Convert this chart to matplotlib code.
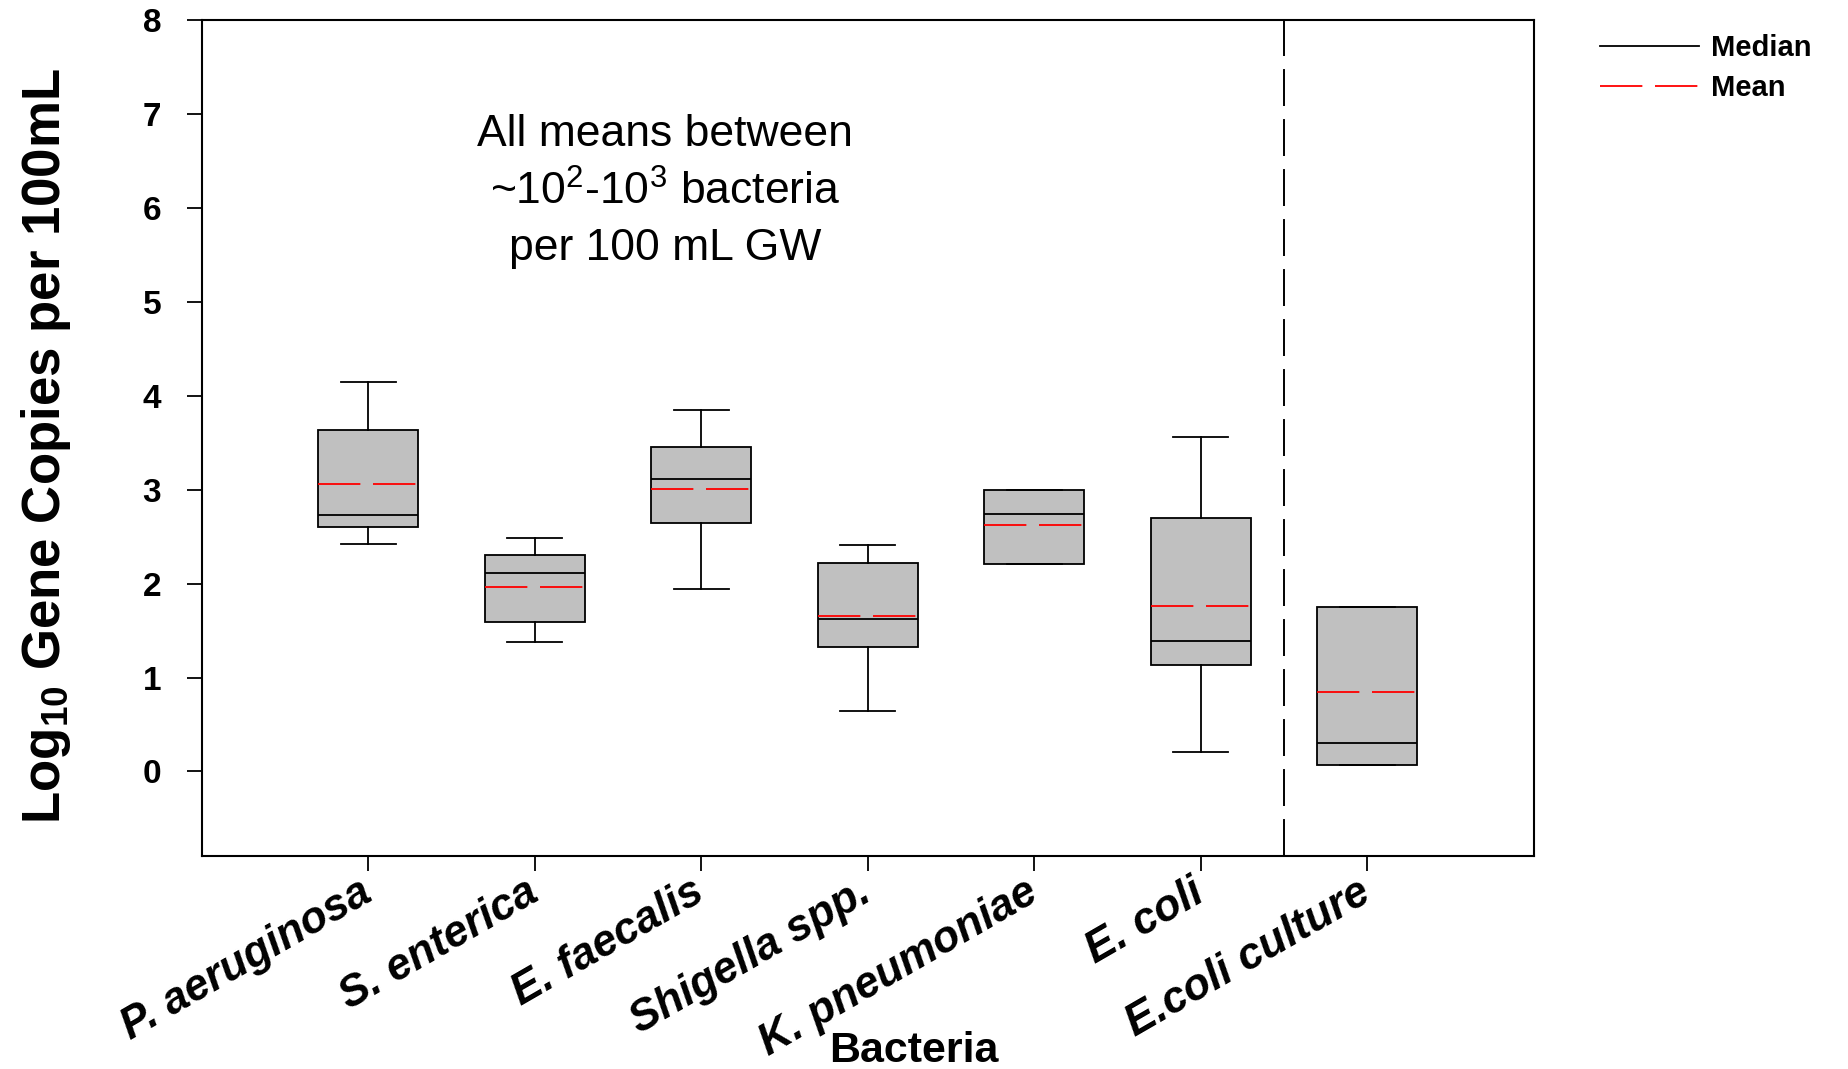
"""
Box plot of log10 gene copies per 100 mL for each bacterium
"""

import matplotlib
matplotlib.use("Agg")
from matplotlib import pyplot as plt
from matplotlib.lines import Line2D

plt.rcParams['font.family'] = ['Liberation Sans', 'DejaVu Sans']
plt.rcParams['mathtext.fontset'] = 'custom'
plt.rcParams['mathtext.rm'] = 'Liberation Sans'
plt.rcParams['mathtext.bf'] = 'Liberation Sans:bold'

# data
bacteria = ['P. aeruginosa', 'S. enterica', 'E. faecalis', 'Shigella spp.',
            'K. pneumoniae', 'E. coli', 'E.coli culture']
whisker_low = [2.42, 1.38, 1.94, 0.64, 2.21, 0.21, 0.07]
quart_1 = [2.60, 1.59, 2.65, 1.32, 2.21, 1.13, 0.07]
medians = [2.73, 2.11, 3.11, 1.62, 2.74, 1.39, 0.30]
quart_3 = [3.64, 2.30, 3.45, 2.22, 3.00, 2.70, 1.75]
whisker_high = [4.15, 2.48, 3.85, 2.41, 3.00, 3.56, 1.75]
means = [3.06, 1.96, 3.01, 1.65, 2.62, 1.76, 0.85]
y_ticks = [0, 1, 2, 3, 4, 5, 6, 7, 8]
divider_at = 6.5   # separates field samples from the culture

positions = list(range(1, len(bacteria) + 1))
stats = [
    {'label': name, 'whislo': lo, 'q1': a, 'med': m, 'q3': b, 'whishi': hi, 'mean': mu}
    for name, lo, a, m, b, hi, mu in zip(bacteria, whisker_low, quart_1, medians,
                                         quart_3, whisker_high, means)
]

fig = plt.figure(figsize=(18.49, 10.69), dpi=100)
ax = fig.add_axes([0.109, 0.1992, 0.7206, 0.7822])

mean_lw = 1.3
mean_style = (0, (30.5 / mean_lw, 9.1 / mean_lw))
ax.bxp(stats, positions=positions, widths=0.6, capwidths=0.33,
       patch_artist=True, showmeans=True, meanline=True, showfliers=False,
       boxprops=dict(facecolor='#c0c0c0', edgecolor='black', linewidth=1.3),
       medianprops=dict(color='black', linewidth=1.3),
       meanprops=dict(color='red', linewidth=mean_lw, linestyle=mean_style),
       whiskerprops=dict(color='black', linewidth=1.3),
       capprops=dict(color='black', linewidth=1.3))

div_lw = 1.4
ax.axvline(divider_at, color='black', linewidth=div_lw,
           linestyle=(0, (26.6 / div_lw, 9.4 / div_lw)))

ax.set_xlim(0, 8)
ax.set_ylim(-0.9, 8)
ax.set_yticks(y_ticks)
ax.set_yticklabels([str(t) for t in y_ticks], fontsize=24, fontweight='bold')
ax.set_xticks(positions)
ax.set_xticklabels(bacteria, fontsize=31.5, fontweight='bold', fontstyle='italic',
                   rotation=30, ha='right', va='center', rotation_mode='anchor')
ax.tick_params(axis='y', length=11, width=1.3, pad=18)
ax.tick_params(axis='x', length=11, width=1.3, pad=13)
for side in ax.spines.values():
    side.set_linewidth(1.5)

ax.set_ylabel(r'Log$_{\mathbf{10}}$ Gene Copies per 100mL', fontsize=38, fontweight='bold')
ax.yaxis.set_label_coords(-0.0965, 0.49)
ax.set_xlabel('Bacteria', fontsize=31, fontweight='bold')
ax.xaxis.set_label_coords(0.5347, -0.209)

ax.text(0.348, 0.795, 'All means between\n~10$^2$-10$^3$ bacteria\nper 100 mL GW',
        transform=ax.transAxes, fontsize=32, ha='center', va='center', linespacing=1.45)

handles = [
    Line2D([], [], color='black', linewidth=1.3),
    Line2D([], [], color='red', linewidth=mean_lw, linestyle=mean_style),
]
fig.legend(handles, ['Median', 'Mean'], loc='upper left',
           bbox_to_anchor=(1574 / 1849, 1 - 8 / 1069), frameon=False,
           prop={'size': 21, 'weight': 'bold'}, handlelength=3.4,
           handletextpad=0.4, labelspacing=0.4)

fig.savefig('out.png', dpi=100)
